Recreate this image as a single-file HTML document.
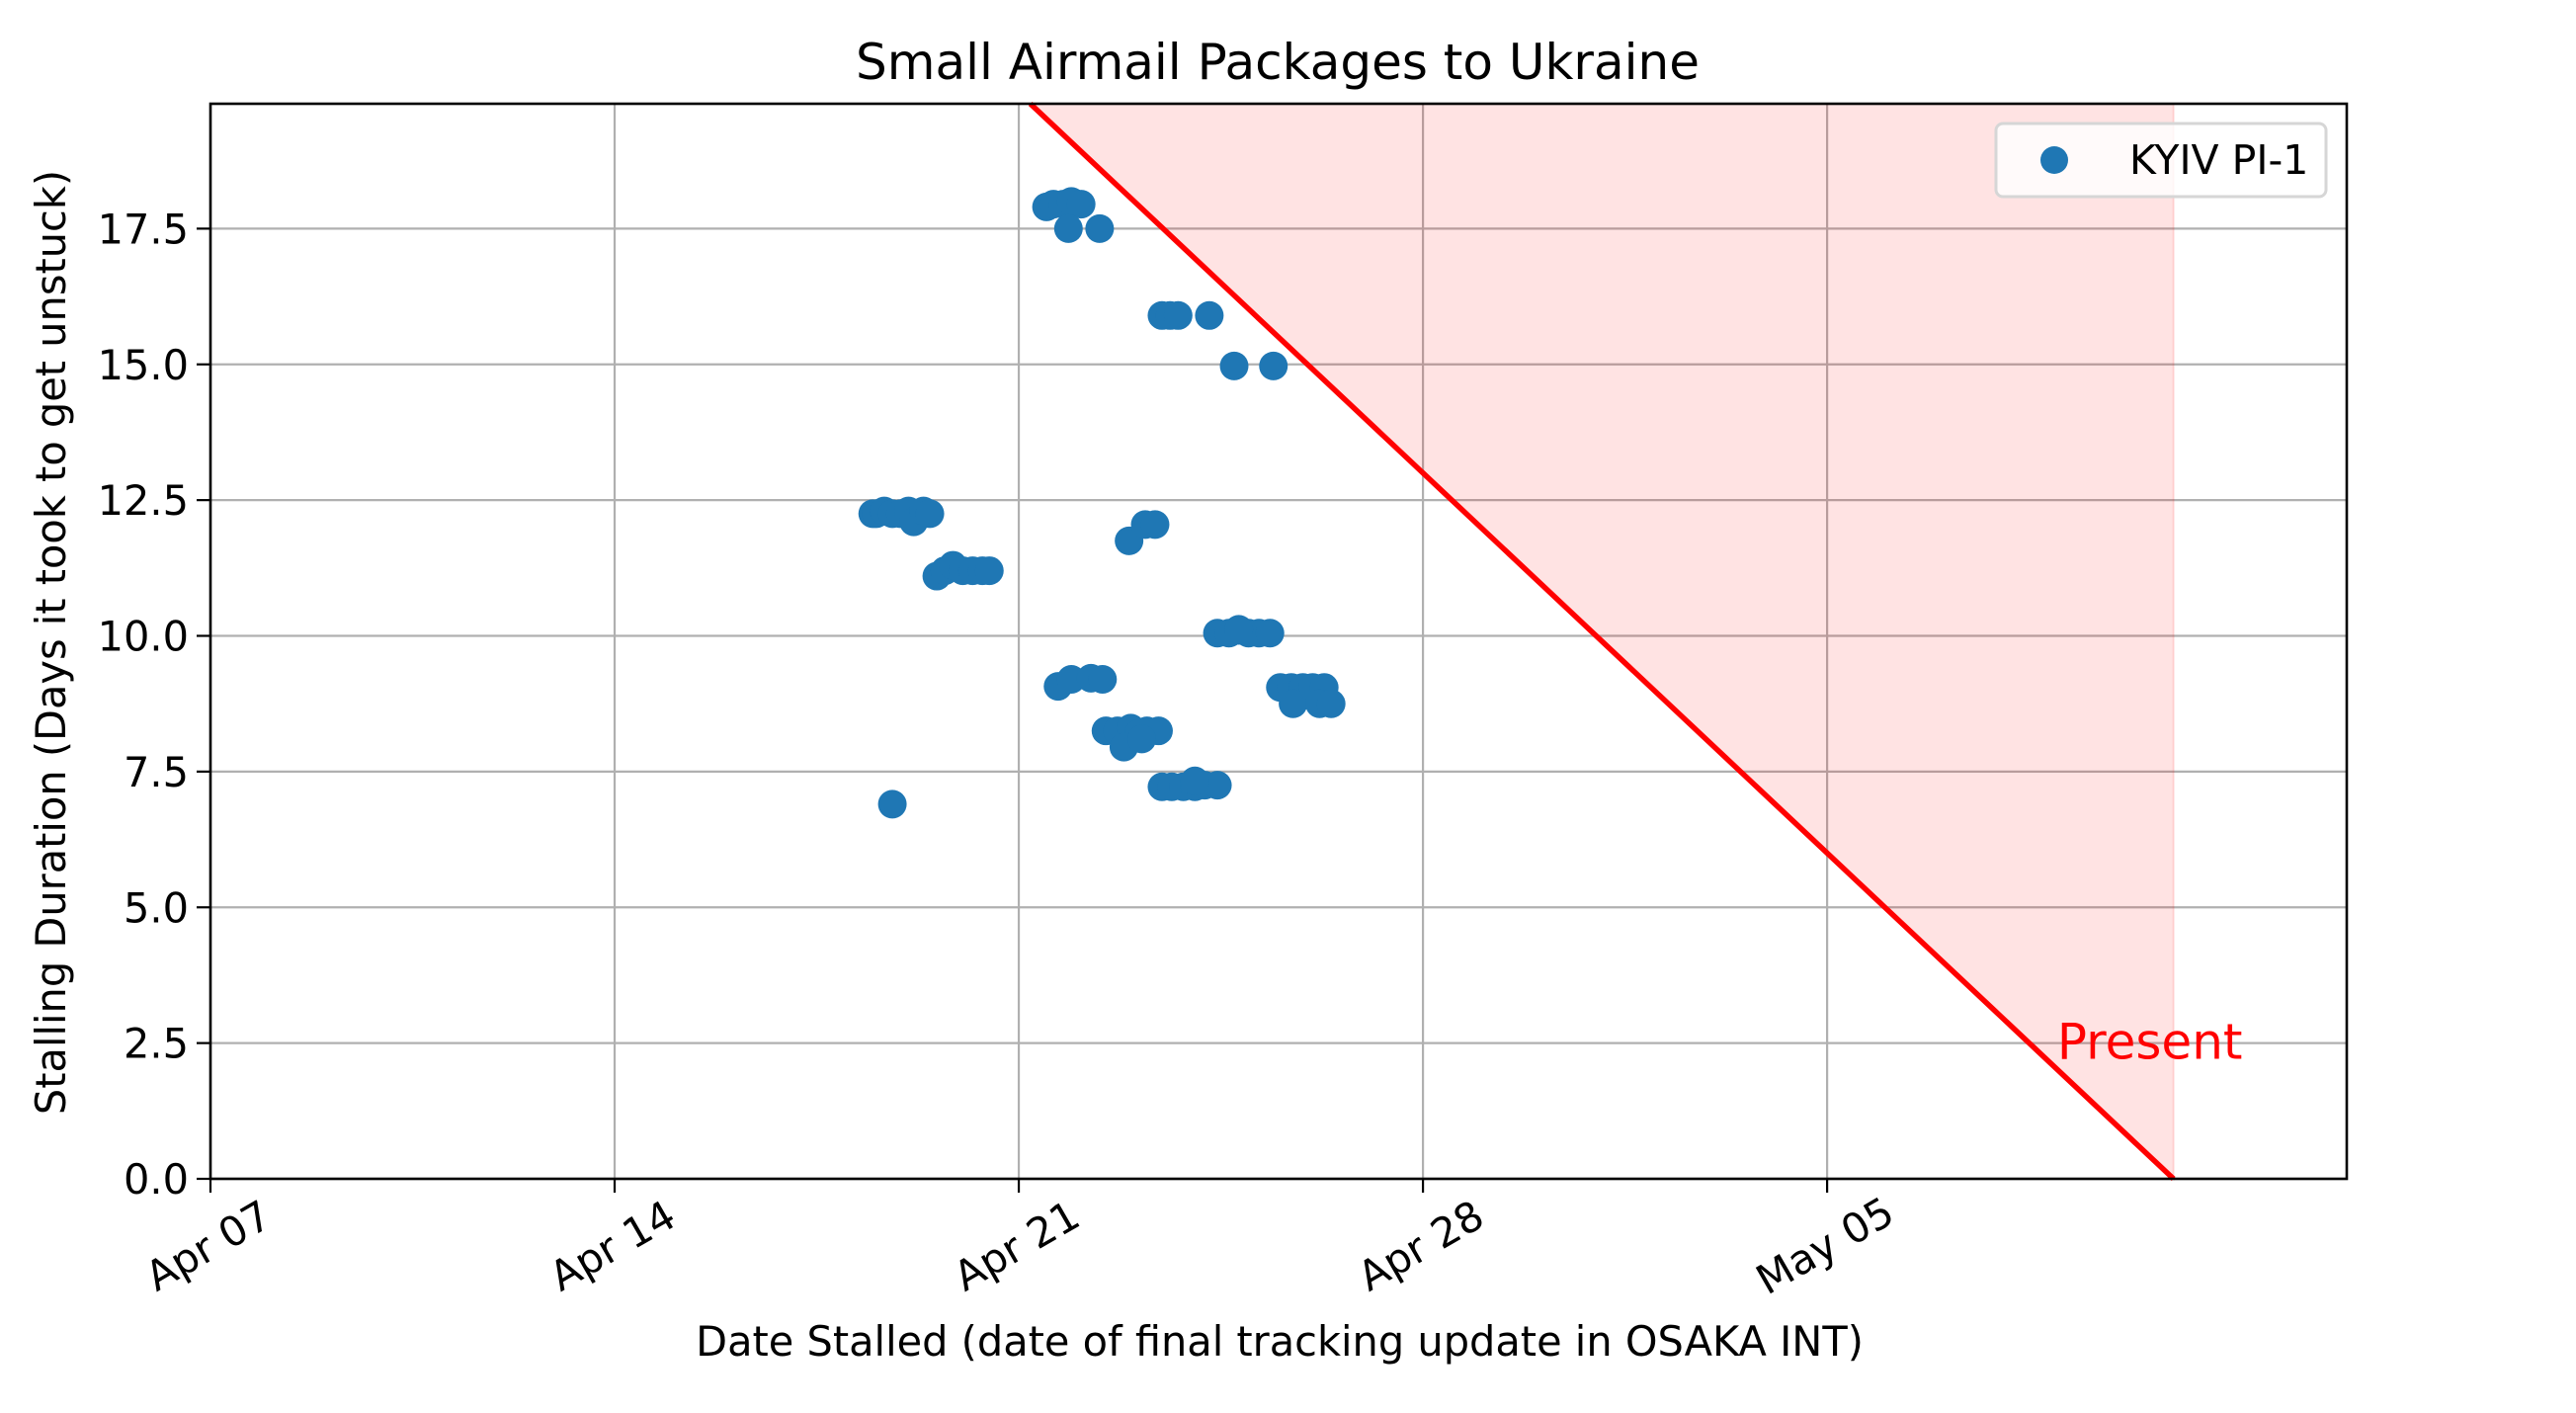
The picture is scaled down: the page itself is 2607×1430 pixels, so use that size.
<!DOCTYPE html>
<html><head><meta charset="utf-8"><style>
html,body{margin:0;padding:0;background:#fff}
svg{display:block}
text{font-family:"DejaVu Sans","Liberation Sans",sans-serif}
</style></head><body>
<svg id="chart" width="2607" height="1430" viewBox="0 0 2607 1430" xmlns="http://www.w3.org/2000/svg">
<rect width="2607" height="1430" fill="#fff"/>
<text x="1293" y="80" font-size="50" text-anchor="middle">Small Airmail Packages to Ukraine</text>
<g id="grid"></g>
<g id="fill"></g>
<g id="points"></g>
<g id="axes"></g>
<text x="1295" y="1372" font-size="41.5" text-anchor="middle">Date Stalled (date of final tracking update in OSAKA INT)</text>
<text transform="translate(66,650) rotate(-90)" font-size="41.5" text-anchor="middle">Stalling Duration (Days it took to get unstuck)</text>
<g>
<rect x="2020" y="125" width="334" height="74" rx="7" fill="#fff" fill-opacity="0.8" stroke="#d6d6d6" stroke-width="3"/>
<circle cx="2079" cy="162" r="14" fill="#1f77b4"/>
<text x="2155" y="176" font-size="41">KYIV PI-1</text>
</g>
</svg>
<script>
// data: days since Apr 07, stalling duration in days
const dayOffsets = [11.47,11.53,11.67,11.81,11.95,12.09,12.18,12.35,12.46,
 12.58,12.72,12.86,13.03,13.20,13.37,13.49,
 11.81,
 14.48,14.60,14.77,14.91,15.08,14.86,15.40,
 16.48,16.62,16.76,17.30,17.73,18.41,
 15.91,16.19,16.36,
 14.68,14.91,15.25,15.45,
 15.51,15.71,15.94,16.08,16.22,16.42,15.82,16.13,
 16.48,16.65,16.85,17.05,17.22,17.44,17.05,
 17.44,17.64,17.81,17.98,18.16,18.35,17.81,
 18.53,18.72,18.92,19.09,19.29,18.75,19.21,19.41];
const durations = [12.25,12.25,12.3,12.25,12.25,12.3,12.1,12.3,12.25,
 11.1,11.2,11.3,11.2,11.2,11.2,11.2,
 6.9,
 17.9,17.95,17.95,18.0,17.95,17.5,17.5,
 15.9,15.9,15.9,15.9,14.97,14.97,
 11.75,12.05,12.05,
 9.07,9.2,9.22,9.2,
 8.25,8.25,8.3,8.2,8.25,8.25,7.95,8.1,
 7.22,7.22,7.22,7.22,7.25,7.25,7.33,
 10.05,10.05,10.1,10.05,10.05,10.05,10.12,
 9.05,9.05,9.05,9.05,9.05,8.75,8.75,8.75];
const xTickDays = [0,7,14,21,28];
const xTickLabels = ["Apr 07","Apr 14","Apr 21","Apr 28","May 05"];
const yTicks = [0,2.5,5,7.5,10,12.5,15,17.5];
const presentDay = 34;
const xMaxDay = 37, yMax = 19.8;

const L=213,R=2375,T=105,B=1193;
const xs=d=>L+(d/xMaxDay)*(R-L);
const ys=v=>B-(v/yMax)*(B-T);
const NS="http://www.w3.org/2000/svg";
function mk(tag,attrs,parent){const e=document.createElementNS(NS,tag);for(const k in attrs)e.setAttribute(k,attrs[k]);parent.appendChild(e);return e;}
const grid=document.getElementById('grid'),axes=document.getElementById('axes'),pts=document.getElementById('points'),fill=document.getElementById('fill');

xTickDays.forEach((d,i)=>{
 const g=mk('line',{x1:xs(d),x2:xs(d),y1:T,y2:B,stroke:'#b0b0b0','stroke-width':2.2},grid);
 
 
 const t=mk('line',{x1:xs(d),x2:xs(d),y1:B,y2:B+14,stroke:'#000','stroke-width':2.2},axes);
 
 
 const x=xs(d)-2,y=B+82;
 const lb=mk('text',{x:x,y:y,'font-size':41.5,'text-anchor':'middle',transform:`rotate(-30 ${x} ${y-14})`},axes);
 lb.textContent=xTickLabels[i];
 
 
});
yTicks.forEach(v=>{
 const g=mk('line',{x1:L,x2:R,y1:ys(v),y2:ys(v),stroke:'#b0b0b0','stroke-width':2.2},grid);
 
 
 const t=mk('line',{x1:L-14,x2:L,y1:ys(v),y2:ys(v),stroke:'#000','stroke-width':2.2},axes);
 
 
 const lb=mk('text',{x:L-22,y:ys(v)+15,'font-size':41.5,'text-anchor':'end'},axes);
 lb.textContent=v.toFixed(1);
 
 
});
// present region
const topDay=presentDay-yMax;
const poly=mk('polygon',{points:`${xs(topDay)},${T} ${xs(presentDay)},${T} ${xs(presentDay)},${B}`,fill:'#ff0000','fill-opacity':0.11,stroke:'#ff0000','stroke-opacity':0.12,'stroke-width':2},fill);


const ln=mk('line',{x1:xs(topDay),y1:T,x2:xs(presentDay),y2:B,stroke:'#ff0000','stroke-width':5.5},fill);


const pt=mk('text',{x:xs(presentDay)-24,y:ys(2.3)+5,'font-size':50,'text-anchor':'middle',fill:'#ff0000'},fill);
pt.textContent='Present';



dayOffsets.forEach((d,i)=>{
 const c=mk('circle',{cx:xs(d),cy:ys(durations[i]),r:14.5,fill:'#1f77b4'},pts);
 
 
});
const fr=mk('rect',{x:L,y:T,width:R-L,height:B-T,fill:'none',stroke:'#000','stroke-width':2.6},axes);


</script>
</body></html>
